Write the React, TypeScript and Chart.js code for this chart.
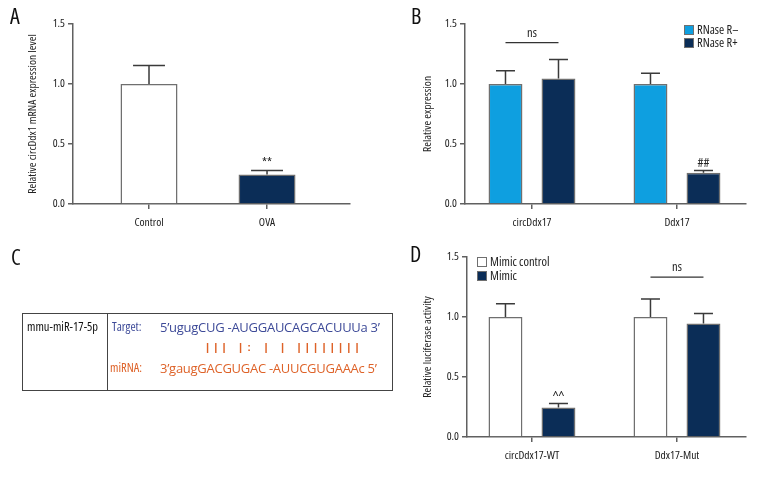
import React, { useEffect, useRef } from 'react';
import { Chart, registerables } from 'chart.js';

Chart.register(...registerables);

const COND = '"Open Sans", Roboto, sans-serif';
const COND_WEIGHT = 'normal condensed';
const SEQ_FONT = '"Open Sans", "Noto Sans", sans-serif';

// ---------- data ----------
const yTickValues = [0, 0.5, 1.0, 1.5];

// Panel A
const aCategories = ['Control', 'OVA'];
const aValues = [1.0, 0.245];
const aErrors = [0.155, 0.035];
const aMarks = ['', '**'];
const aYTitle = 'Relative circDdx1 mRNA expression level';

// Panel B
const bCategories = ['circDdx17', 'Ddx17'];
const bSeries = ['RNase R–', 'RNase R+'];
const bMinusValues = [1.0, 1.0];
const bMinusErrors = [0.11, 0.09];
const bPlusValues = [1.045, 0.26];
const bPlusErrors = [0.16, 0.02];
const bPlusMarks = ['', '##'];
const bYTitle = 'Relative expression';
const bNsGroup = 0;
const bNsLevel = 1.345;

// Panel D
const dCategories = ['circDdx17-WT', 'Ddx17-Mut'];
const dSeries = ['Mimic control', 'Mimic'];
const dControlValues = [1.0, 1.0];
const dControlErrors = [0.11, 0.15];
const dMimicValues = [0.245, 0.945];
const dMimicErrors = [0.035, 0.085];
const dMimicMarks = ['^^', ''];
const dYTitle = 'Relative luciferase activity';
const dNsGroup = 1;
const dNsLevel = 1.333;

// Panel C
const cMirName = 'mmu-miR-17-5p';
const cTargetLabel = 'Target:';
const cTargetSeq = '5’ugugCUG -AUGGAUCAGCACUUUa 3’';
const cPairing = '||| |: | | ||||||||';
const cMirLabel = 'miRNA:';
const cMirSeq = '3’gaugGACGUGAC -AUUCGUGAAAc 5’';

// ---------- styles ----------
const WHITE = '#ffffff';
const LIGHT_BLUE = '#0e9fe0';
const NAVY = '#0b2d57';
const BAR_BORDER = '#6f6f6f';
const AXIS = '#606060';
const TEXT = '#222222';
const SEQ_BLUE = '#3d4a98';
const SEQ_ORANGE = '#de6228';

type Series = {
  label: string;
  values: number[];
  errors: number[];
  marks?: string[];
  colors: string[];
};

type PanelCfg = {
  width: number;
  height: number;
  categories: string[];
  series: Series[];
  yTitle: string;
  area: { left: number; right: number; top: number; bottom: number };
  xMin: number;
  xMax: number;
  titleOffset: number;
  categoryPercentage: number;
  barPercentage: number;
  legend?: { x: number; y: number; row: number };
  ns?: { group: number; level: number };
};

const condFont = (size: number) => `${COND_WEIGHT} ${size}px ${COND}`;

function buildChart(canvas: HTMLCanvasElement, cfg: PanelCfg) {
  const errorPlugin = {
    id: 'errorBars',
    afterDatasetsDraw(chart: any) {
      const ctx = chart.ctx;
      const yScale = chart.scales.y;
      ctx.save();
      cfg.series.forEach((s, di) => {
        const meta = chart.getDatasetMeta(di);
        meta.data.forEach((el: any, j: number) => {
          const top = yScale.getPixelForValue(s.values[j] + s.errors[j]);
          const half = el.width * 0.28;
          ctx.strokeStyle = '#3a3a3a';
          ctx.lineWidth = 1.5;
          ctx.beginPath();
          ctx.moveTo(el.x, el.y);
          ctx.lineTo(el.x, top);
          ctx.moveTo(el.x - half, top);
          ctx.lineTo(el.x + half, top);
          ctx.stroke();
          const mark = s.marks ? s.marks[j] : '';
          if (mark) {
            ctx.fillStyle = TEXT;
            ctx.font = condFont(13);
            ctx.textAlign = 'center';
            ctx.textBaseline = 'bottom';
            ctx.fillText(mark, el.x, top - 1);
          }
        });
      });
      if (cfg.ns) {
        const m0 = chart.getDatasetMeta(0).data[cfg.ns.group];
        const m1 = chart.getDatasetMeta(1).data[cfg.ns.group];
        const y = yScale.getPixelForValue(cfg.ns.level);
        ctx.strokeStyle = '#333';
        ctx.lineWidth = 1.2;
        ctx.beginPath();
        ctx.moveTo(m0.x, y);
        ctx.lineTo(m1.x, y);
        ctx.stroke();
        ctx.fillStyle = TEXT;
        ctx.font = condFont(12.5);
        ctx.textAlign = 'center';
        ctx.textBaseline = 'bottom';
        ctx.fillText('ns', (m0.x + m1.x) / 2, y - 3);
      }
      if (cfg.legend) {
        const { x, y, row } = cfg.legend;
        cfg.series.forEach((s, i) => {
          const yy = y + i * row;
          ctx.fillStyle = s.colors[0];
          ctx.fillRect(x, yy, 10, 10);
          ctx.strokeStyle = BAR_BORDER;
          ctx.lineWidth = 1;
          ctx.strokeRect(x + 0.5, yy + 0.5, 9, 9);
          ctx.fillStyle = TEXT;
          ctx.font = condFont(12.5);
          ctx.textAlign = 'left';
          ctx.textBaseline = 'middle';
          ctx.fillText(s.label, x + 13, yy + 5);
        });
      }
      ctx.restore();
    },
  };

  const { area } = cfg;
  const tickFont = { family: COND, size: 11.5, weight: COND_WEIGHT };
  return new Chart(canvas, {
    type: 'bar',
    data: {
      datasets: cfg.series.map((s) => ({
        label: s.label,
        data: s.values.map((v, i) => ({ x: i, y: v })),
        backgroundColor: s.colors,
        borderColor: BAR_BORDER,
        borderWidth: 1.5,
        categoryPercentage: cfg.categoryPercentage,
        barPercentage: cfg.barPercentage,
      })),
    },
    options: {
      animation: false,
      responsive: true,
      maintainAspectRatio: false,
      events: [],
      layout: {
        padding: { left: 0, top: area.top, right: cfg.width - area.right, bottom: 0 },
      },
      plugins: { legend: { display: false }, tooltip: { enabled: false } },
      scales: {
        x: {
          type: 'linear',
          offset: false,
          min: cfg.xMin,
          max: cfg.xMax,
          afterBuildTicks: (s: any) => {
            s.ticks = cfg.categories.map((_, i) => ({ value: i }));
          },
          afterFit: (s: any) => {
            s.height = cfg.height - area.bottom;
          },
          ticks: {
            autoSkip: false,
            maxRotation: 0,
            padding: 7,
            color: TEXT,
            font: tickFont,
            callback: (v: any) => cfg.categories[Number(v)] ?? '',
          },
          grid: { offset: false, drawOnChartArea: false, drawTicks: true, tickLength: 5, color: AXIS, lineWidth: 1.5 },
          border: { color: AXIS, width: 1.5 },
        },
        y: {
          type: 'linear',
          min: 0,
          max: 1.5,
          afterBuildTicks: (s: any) => {
            s.ticks = yTickValues.map((v) => ({ value: v }));
          },
          afterFit: (s: any) => {
            s.width = area.left;
          },
          ticks: {
            padding: 3,
            color: TEXT,
            font: tickFont,
            callback: (v: any) => Number(v).toFixed(1),
          },
          title: {
            display: true,
            text: cfg.yTitle,
            color: TEXT,
            font: { family: COND, size: 11.5, weight: COND_WEIGHT },
            padding: { top: cfg.titleOffset, bottom: 0 },
          },
          grid: { drawOnChartArea: false, drawTicks: true, tickLength: 5, color: AXIS, lineWidth: 1.5 },
          border: { color: AXIS, width: 1.5 },
        },
      },
    } as any,
    plugins: [errorPlugin],
  });
}

function BarPanel({ cfg, left, top }: { cfg: PanelCfg; left: number; top: number }) {
  const ref = useRef<HTMLCanvasElement | null>(null);
  useEffect(() => {
    if (!ref.current) return;
    const chart = buildChart(ref.current, cfg);
    return () => chart.destroy();
  }, []);
  return (
    <div style={{ position: 'absolute', left, top, width: cfg.width, height: cfg.height }}>
      <canvas ref={ref} />
    </div>
  );
}

const panelA: PanelCfg = {
  width: 384,
  height: 240,
  categories: aCategories,
  series: [{ label: 'A', values: aValues, errors: aErrors, marks: aMarks, colors: [WHITE, NAVY] }],
  yTitle: aYTitle,
  area: { left: 73, right: 350, top: 24, bottom: 204 },
  xMin: -0.644,
  xMax: 1.703,
  titleOffset: 26,
  categoryPercentage: 1,
  barPercentage: 0.483,
};

const panelB: PanelCfg = {
  width: 384,
  height: 240,
  categories: bCategories,
  series: [
    { label: bSeries[0], values: bMinusValues, errors: bMinusErrors, colors: [LIGHT_BLUE] },
    { label: bSeries[1], values: bPlusValues, errors: bPlusErrors, marks: bPlusMarks, colors: [NAVY] },
  ],
  yTitle: bYTitle,
  area: { left: 81, right: 362, top: 24, bottom: 204 },
  xMin: -0.462,
  xMax: 1.476,
  titleOffset: 37,
  categoryPercentage: 0.731,
  barPercentage: 0.64,
  legend: { x: 300, y: 25, row: 13 },
  ns: { group: bNsGroup, level: bNsLevel },
};

const panelD: PanelCfg = {
  width: 384,
  height: 240,
  categories: dCategories,
  series: [
    { label: dSeries[0], values: dControlValues, errors: dControlErrors, colors: [WHITE] },
    { label: dSeries[1], values: dMimicValues, errors: dMimicErrors, marks: dMimicMarks, colors: [NAVY] },
  ],
  yTitle: dYTitle,
  area: { left: 83, right: 362, top: 17, bottom: 197 },
  xMin: -0.448,
  xMax: 1.476,
  titleOffset: 37,
  categoryPercentage: 0.731,
  barPercentage: 0.64,
  legend: { x: 93, y: 17, row: 14 },
  ns: { group: dNsGroup, level: dNsLevel },
};

const letterStyle: React.CSSProperties = {
  position: 'absolute',
  fontFamily: COND,
  fontStretch: '75%',
  fontSize: 22,
  lineHeight: '24px',
  color: '#111',
};

const abs = (left: number, top: number, extra: React.CSSProperties = {}): React.CSSProperties => ({
  position: 'absolute',
  left,
  top,
  whiteSpace: 'pre',
  ...extra,
});

const condText = (size: number, color: string): React.CSSProperties => ({
  fontFamily: COND,
  fontStretch: '75%',
  fontSize: size,
  lineHeight: '14px',
  color,
});

function PanelC() {
  return (
    <>
      <div style={abs(22, 313, { width: 369, height: 76, border: '1px solid #444' })} />
      <div style={abs(107, 313, { width: 1, height: 78, background: '#444' })} />
      <div style={abs(27, 320, condText(12.5, '#111'))}>{cMirName}</div>
      <div style={abs(112, 320, condText(12.5, SEQ_BLUE))}>{cTargetLabel}</div>
      <div style={abs(160, 319, { fontFamily: SEQ_FONT, fontSize: 13, letterSpacing: '-0.27px', lineHeight: '16px', color: SEQ_BLUE })}>{cTargetSeq}</div>
      <div style={abs(206, 341, { fontFamily: '"Liberation Sans", sans-serif', fontWeight: 'bold', fontSize: 11, lineHeight: '12px', letterSpacing: '5.2px', color: SEQ_ORANGE })}>{cPairing}</div>
      <div style={abs(110, 361, condText(12.5, SEQ_ORANGE))}>{cMirLabel}</div>
      <div style={abs(160, 360, { fontFamily: SEQ_FONT, fontSize: 13, letterSpacing: '-0.27px', lineHeight: '16px', color: SEQ_ORANGE })}>{cMirSeq}</div>
    </>
  );
}

export default function App() {
  return (
    <div style={{ position: 'absolute', left: 0, top: 0, width: 768, height: 480, background: '#fff', overflow: 'hidden' }}>
      <BarPanel cfg={panelA} left={0} top={0} />
      <BarPanel cfg={panelB} left={384} top={0} />
      <BarPanel cfg={panelD} left={384} top={240} />
      <PanelC />
      <div style={{ ...letterStyle, left: 10, top: 3 }}>A</div>
      <div style={{ ...letterStyle, left: 411, top: 3 }}>B</div>
      <div style={{ ...letterStyle, left: 11, top: 244 }}>C</div>
      <div style={{ ...letterStyle, left: 410, top: 241 }}>D</div>
    </div>
  );
}
